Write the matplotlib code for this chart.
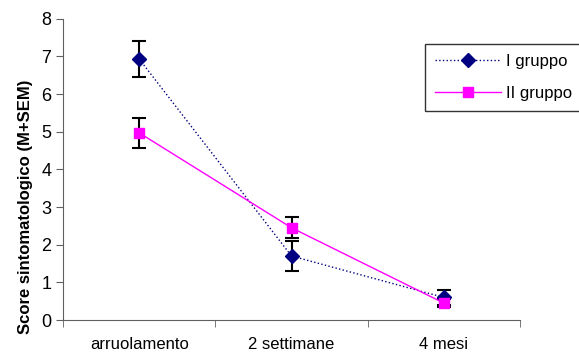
import matplotlib
matplotlib.use('Agg')
import matplotlib.pyplot as plt
import numpy as np

plt.rcParams['font.family'] = ['Liberation Sans', 'DejaVu Sans']

categories = ['arruolamento', '2 settimane', '4 mesi']
gruppo1 = [6.93, 1.70, 0.60]
gruppo1_err = [0.47, 0.41, 0.20]
gruppo2 = [4.97, 2.45, 0.45]
gruppo2_err = [0.40, 0.28, 0.10]

fig = plt.figure(figsize=(5.79, 3.62), dpi=100)
ax = fig.add_axes([0.109, 0.116, 0.789, 0.832])

x = np.arange(len(categories))

ax.errorbar(x, gruppo1, yerr=gruppo1_err, fmt='none', ecolor='black',
            elinewidth=1.5, capsize=5, capthick=1.5, zorder=2)
ax.errorbar(x, gruppo2, yerr=gruppo2_err, fmt='none', ecolor='black',
            elinewidth=1.5, capsize=5, capthick=1.5, zorder=2)
l1, = ax.plot(x, gruppo1, color='#000080', linestyle=':', linewidth=1,
              marker='D', markersize=7, markerfacecolor='#000080',
              markeredgecolor='#000080', label='I gruppo', zorder=3)
l2, = ax.plot(x, gruppo2, color='#FF00FF', linestyle='-', linewidth=1,
              marker='s', markersize=7, markerfacecolor='#FF00FF',
              markeredgecolor='#FF00FF', label='II gruppo', zorder=4)

ax.set_xlim(-0.5, 2.5)
ax.set_ylim(0, 8)
ax.set_yticks(range(0, 9))
ax.set_xticks(x)
ax.set_xticklabels(categories)
ax.set_xticks([-0.5, 0.5, 1.5, 2.5], minor=True)
ax.tick_params(axis='x', which='major', length=0, pad=12, labelsize=12)
ax.tick_params(axis='x', which='minor', length=5, direction='out', color='#606060')
ax.tick_params(axis='y', length=5, direction='out', labelsize=13, color='#606060')

for s in ['top', 'right']:
    ax.spines[s].set_visible(False)
for s in ['left', 'bottom']:
    ax.spines[s].set_color('#606060')

ax.set_ylabel('Score sintomatologico (M+SEM)', fontsize=12, fontweight='bold')
ax.yaxis.set_label_coords(-0.066, 0.375)

leg = fig.legend(handles=[l1, l2], loc='center', bbox_to_anchor=(0.748, 0.688, 0.243, 0.196),
                 frameon=True, fancybox=False, edgecolor='black', fontsize=12,
                 handlelength=4, labelspacing=1.0, borderpad=0.6, handletextpad=0.3)
leg.get_frame().set_linewidth(1)

fig.savefig('out.png', dpi=100)
